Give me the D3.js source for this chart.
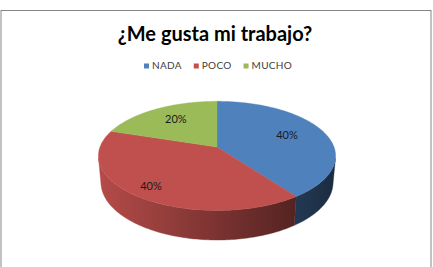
<!DOCTYPE html>
<html>
<head>
<meta charset="utf-8">
<script src="https://cdn.jsdelivr.net/npm/d3@7/dist/d3.min.js"></script>
<style>
  html, body { margin: 0; padding: 0; background: #fff; }
  svg { display: block; }
</style>
</head>
<body>
<div id="chart"></div>
<script>
const chartTitle = "¿Me gusta mi trabajo?";
const categories = ["NADA", "POCO", "MUCHO"];
const values = [40, 40, 20];
const colors = ["#4F81BD", "#C0504D", "#9BBB59"];

const width = 433;
const height = 267;

// 3d pie setup
const cx = 217;
const cy = 147;
const R = 117;
const depth = 30;
const tilt = (27 * Math.PI) / 180;
const camDist = 640;

const svg = d3
  .select("#chart")
  .append("svg")
  .attr("width", width)
  .attr("height", height);

// chart frame
svg
  .append("rect")
  .attr("x", 1)
  .attr("y", 10.5)
  .attr("width", 430)
  .attr("height", 300)
  .attr("fill", "#fff")
  .attr("stroke", "#868686")
  .attr("stroke-width", 1);

svg
  .append("text")
  .text(chartTitle)
  .attr("x", 215)
  .attr("y", 40.5)
  .attr("text-anchor", "middle")
  .attr("font-family", "Lato, sans-serif")
  .attr("font-weight", "bold")
  .attr("font-size", 20)
  .attr("fill", "#000");

// legend
const colorScale = d3.scaleOrdinal().domain(categories).range(colors);
const legend = svg.append("g");
let lx = 0;
categories.forEach((c) => {
  const g = legend.append("g").attr("transform", `translate(${lx},0)`);
  g.append("rect")
    .attr("x", 0)
    .attr("y", -5.5)
    .attr("width", 5)
    .attr("height", 5)
    .attr("fill", colorScale(c));
  const t = g
    .append("text")
    .text(c)
    .attr("x", 8)
    .attr("y", 0)
    .attr("font-family", "Lato, sans-serif")
    .attr("font-size", 10)
    .attr("letter-spacing", 0.3)
    .attr("fill", "#404040");
  lx += 8 + t.node().getComputedTextLength() + 12;
});
lx -= 12;
legend.attr("transform", `translate(${218 - lx / 2},69)`);

// projection of a point on the pie (angle clockwise from top, radius, height)
function project(theta, r, y) {
  const u = Math.sin(theta);
  const v = -Math.cos(theta);
  const X = r * u;
  const z = r * v;
  const Y = z * Math.sin(tilt) + y * Math.cos(tilt);
  const Z = z * Math.cos(tilt) - y * Math.sin(tilt);
  const s = camDist / (camDist - Z);
  return [cx + X * s, cy + Y * s];
}

function arcPoints(a0, a1, r, y) {
  const n = Math.max(2, Math.ceil(((a1 - a0) * 180) / Math.PI));
  return d3.range(n + 1).map((i) => project(a0 + ((a1 - a0) * i) / n, r, y));
}

const pie = d3.pie().sort(null).value((d) => d);
const arcs = pie(values);
const line = d3.line().curve(d3.curveLinearClosed);

// side walls only face the camera when v > v0
const v0 = R / (camDist * Math.cos(tilt));
const tMin = Math.acos(-v0);
const tMax = 2 * Math.PI - tMin;

const defs = svg.append("defs");
const shade = (t) => 0.94 - 0.6 * t;
arcs.forEach((a, i) => {
  const grad = defs
    .append("linearGradient")
    .attr("id", `side${i}`)
    .attr("gradientUnits", "userSpaceOnUse")
    .attr("x1", cx - R)
    .attr("x2", cx + R)
    .attr("y1", 0)
    .attr("y2", 0);
  d3.range(0, 1.01, 0.1).forEach((t) => {
    grad
      .append("stop")
      .attr("offset", t)
      .attr("stop-color", d3.interpolateRgb("#000", colors[i])(shade(t)));
  });
});

const pieGroup = svg.append("g");

const walls = arcs
  .map((a, i) => ({
    i,
    a0: Math.max(a.startAngle, tMin),
    a1: Math.min(a.endAngle, tMax),
  }))
  .filter((w) => w.a1 > w.a0)
  .sort((p, q) => -Math.cos((p.a0 + p.a1) / 2) - -Math.cos((q.a0 + q.a1) / 2));

walls.forEach((w) => {
  const pts = arcPoints(w.a0, w.a1, R, 0).concat(
    arcPoints(w.a0, w.a1, R, depth).reverse(),
  );
  pieGroup
    .append("path")
    .attr("d", line(pts))
    .attr("fill", `url(#side${w.i})`)
    .attr("stroke", `url(#side${w.i})`)
    .attr("stroke-width", 0.4);
});

arcs.forEach((a, i) => {
  const pts = [project(0, 0, 0)].concat(
    arcPoints(a.startAngle, a.endAngle, R, 0),
  );
  pieGroup
    .append("path")
    .attr("d", line(pts))
    .attr("fill", colors[i])
    .attr("stroke", colors[i])
    .attr("stroke-width", 0.4);
});

// data labels, pushed outward for slices facing the viewer
const total = d3.sum(values);
const fmt = d3.format(".0%");
arcs.forEach((a, i) => {
  const mid = (a.startAngle + a.endAngle) / 2;
  const v = -Math.cos(mid);
  const r = R * (0.65 + 0.25 * Math.max(0, v));
  const [x, y] = project(mid, r, 0);
  svg
    .append("text")
    .text(fmt(values[i] / total))
    .attr("x", x)
    .attr("y", y - 2)
    .attr("dy", "0.35em")
    .attr("text-anchor", "middle")
    .attr("font-family", "Lato, sans-serif")
    .attr("font-size", 11)
    .attr("fill", "#1a1a1a");
});
</script>
</body>
</html>
